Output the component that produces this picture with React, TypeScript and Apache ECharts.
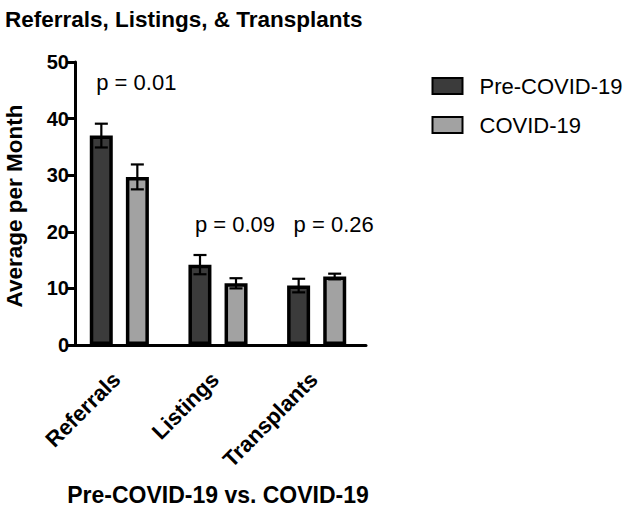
import React, { useEffect, useRef } from "react";
import * as echarts from "echarts";

const categories = ["Referrals", "Listings", "Transplants"];
const preCovid = [37.0, 14.2, 10.5];
const preCovidErr = [2.1, 1.7, 1.2];
const covid = [29.7, 10.9, 12.1];
const covidErr = [2.2, 0.9, 0.5];
const pTexts = ["p = 0.01", "p = 0.09", "p = 0.26"];
const pLabelY = [46.3, 21.3, 21.3];
const yTicks = [0, 10, 20, 30, 40, 50];

const FONT = "'Liberation Sans', Arial, Helvetica, sans-serif";
const DARK = "#3b3b3b";
const LIGHT = "#a2a2a2";
const BAR_W = 23;
const BAR_GAP = 13;

function errorSeries(values: number[], errs: number[], side: number) {
  return {
    type: "custom",
    z: 5,
    silent: true,
    data: values.map((v, i) => [i, v, errs[i]]),
    renderItem: (params: any, api: any) => {
      const cat = api.value(0);
      const val = api.value(1);
      const err = api.value(2);
      const top = api.coord([cat, val + err]);
      const bot = api.coord([cat, val - err]);
      const x = top[0] + side * (BAR_W + BAR_GAP) / 2;
      const cap = 6.5;
      const style = { stroke: "#000", lineWidth: 2.2 };
      return {
        type: "group",
        children: [
          { type: "line", shape: { x1: x, y1: top[1], x2: x, y2: bot[1] }, style },
          { type: "line", shape: { x1: x - cap, y1: top[1], x2: x + cap, y2: top[1] }, style },
          { type: "line", shape: { x1: x - cap, y1: bot[1], x2: x + cap, y2: bot[1] }, style },
        ],
      };
    },
  };
}

export default function App() {
  const ref = useRef<HTMLDivElement>(null);
  useEffect(() => {
    const chart = echarts.init(ref.current!, null, { renderer: "svg" });
    chart.setOption({
      animation: false,
      backgroundColor: "#fff",
      textStyle: { fontFamily: FONT },
      title: {
        text: "Referrals, Listings, & Transplants",
        left: 0,
        top: 3,
        textStyle: { fontFamily: FONT, fontSize: 22.5, fontWeight: "bold", color: "#000" },
      },
      legend: {
        left: 426.5,
        top: 70,
        orient: "vertical",
        itemWidth: 30,
        itemHeight: 16,
        itemGap: 17,
        icon: "rect",
        data: ["Pre-COVID-19", "COVID-19"],
        textStyle: { fontFamily: FONT, fontSize: 22, color: "#000", padding: [0, 0, 0, 12] },
      },
      graphic: [
        {
          type: "text",
          x: 14,
          y: 206,
          rotation: Math.PI / 2,
          style: {
            text: "Average per Month",
            fill: "#000",
            font: `bold 22.5px ${FONT}`,
            align: "center",
            verticalAlign: "middle",
          },
        },
      ],
      grid: { left: 70, right: 260, top: 62, bottom: 162 },
      xAxis: {
        type: "category",
        data: categories,
        name: "Pre-COVID-19 vs. COVID-19",
        nameLocation: "middle",
        nameGap: 138,
        nameTextStyle: { fontFamily: FONT, fontSize: 23, fontWeight: "bold", color: "#000" },
        axisLine: { lineStyle: { color: "#000", width: 3 } },
        axisTick: { alignWithLabel: true, length: 9, lineStyle: { color: "#000", width: 3 } },
        axisLabel: {
          rotate: 45,
          margin: 28,
          padding: [0, 4, 0, 0],
          fontFamily: FONT,
          fontSize: 22,
          fontWeight: "bold",
          color: "#000",
        },
      },
      yAxis: {
        type: "value",
        min: yTicks[0],
        max: yTicks[yTicks.length - 1],
        interval: 10,
        offset: -5,
        axisLine: { show: true, lineStyle: { color: "#000", width: 3 } },
        axisTick: { show: true, length: 8, lineStyle: { color: "#000", width: 3 } },
        splitLine: { show: false },
        axisLabel: { margin: 6, fontFamily: FONT, fontSize: 20, fontWeight: "bold", color: "#000" },
      },
      series: [
        {
          name: "Pre-COVID-19",
          type: "bar",
          data: preCovid,
          barWidth: BAR_W,
          barGap: `${Math.round((BAR_GAP / BAR_W) * 100)}%`,
          itemStyle: { color: DARK, borderColor: "#000", borderWidth: 3.5 },
        },
        {
          name: "COVID-19",
          type: "bar",
          data: covid,
          barWidth: BAR_W,
          itemStyle: { color: LIGHT, borderColor: "#000", borderWidth: 3.5 },
        },
        errorSeries(preCovid, preCovidErr, -1),
        errorSeries(covid, covidErr, 1),
        {
          type: "custom",
          silent: true,
          z: 6,
          data: pLabelY.map((y, i) => [i, y]),
          renderItem: (params: any, api: any) => {
            const pt = api.coord([api.value(0), api.value(1)]);
            return {
              type: "text",
              x: pt[0] + 17,
              y: pt[1],
              style: {
                text: pTexts[params.dataIndex],
                fill: "#000",
                font: `22px ${FONT}`,
                align: "center",
                verticalAlign: "middle",
              },
            };
          },
        },
      ],
    });
    return () => chart.dispose();
  }, []);
  return (
    <div
      ref={ref}
      style={{ position: "fixed", left: 0, top: 0, width: 626, height: 511, background: "#fff" }}
    />
  );
}
